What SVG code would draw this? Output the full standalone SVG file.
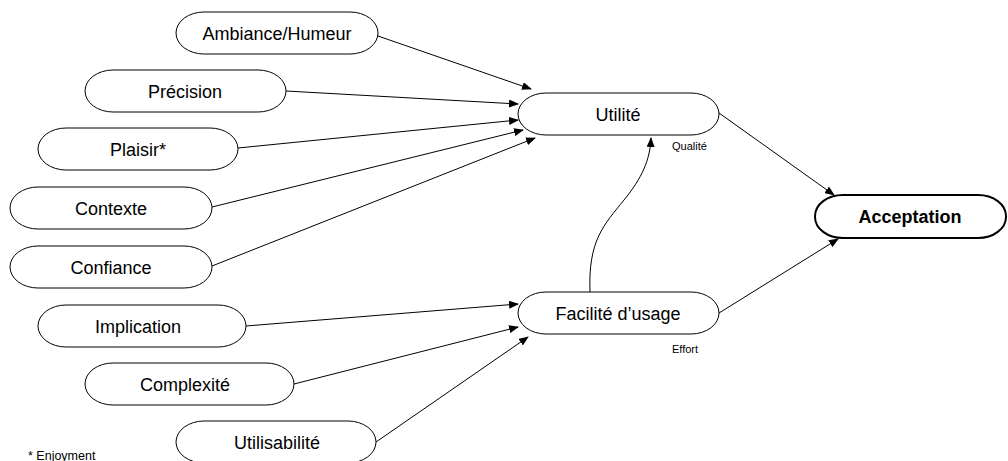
<svg xmlns="http://www.w3.org/2000/svg" width="1008" height="461" viewBox="0 0 1008 461">
<defs>
<marker id="ah" markerWidth="10" markerHeight="8" refX="9" refY="4" orient="auto" markerUnits="userSpaceOnUse">
<path d="M0,0 L10,4 L0,8 Z" fill="#000"/>
</marker>
<style>
.n{fill:#fff;stroke:#000;stroke-width:1}
.t{font-family:"Liberation Sans",Arial,sans-serif;font-size:18px;fill:#000;text-anchor:middle}
.s{font-family:"Liberation Sans",Arial,sans-serif;font-size:11px;fill:#000}
.c{fill:none;stroke:#000;stroke-width:1;marker-end:url(#ah)}
</style>
</defs>
<rect width="1008" height="461" fill="#fff"/>
<g id="connectors">
<path class="c" d="M378,36 L531,89"/>
<path class="c" d="M286,91 L518,104"/>
<path class="c" d="M238,148 L518,120"/>
<path class="c" d="M212,207 L523,130"/>
<path class="c" d="M212,266 L535,138"/>
<path class="c" d="M246,326 L518,304"/>
<path class="c" d="M294,384 L518,327"/>
<path class="c" d="M376,442 L528,337"/>
<path class="c" d="M590,292 C588,240 604,225 624,200 C642,178 650,160 651,138"/>
<path class="c" d="M719,113 L834,195"/>
<path class="c" d="M719,313 L838,239"/>
</g>
<g id="ambiance"><rect class="n" x="176" y="12" width="202" height="42" rx="28" ry="21"/><text class="t" x="277" y="40">Ambiance/Humeur</text></g>
<g id="precision"><rect class="n" x="85" y="70" width="201" height="42" rx="28" ry="21"/><text class="t" x="185" y="98">Précision</text></g>
<g id="plaisir"><rect class="n" x="38" y="128" width="200" height="42" rx="28" ry="21"/><text class="t" x="138" y="156">Plaisir*</text></g>
<g id="contexte"><rect class="n" x="10" y="187" width="202" height="42" rx="28" ry="21"/><text class="t" x="111" y="215">Contexte</text></g>
<g id="confiance"><rect class="n" x="10" y="246" width="202" height="42" rx="28" ry="21"/><text class="t" x="111" y="274">Confiance</text></g>
<g id="implication"><rect class="n" x="38" y="305" width="208" height="42" rx="28" ry="21"/><text class="t" x="138" y="333">Implication</text></g>
<g id="complexite"><rect class="n" x="85" y="363" width="209" height="42" rx="28" ry="21"/><text class="t" x="185" y="391">Complexité</text></g>
<g id="utilisabilite"><rect class="n" x="176" y="421" width="200" height="42" rx="28" ry="21"/><text class="t" x="277" y="449">Utilisabilité</text></g>
<g id="utilite"><rect class="n" x="518" y="93" width="201" height="42" rx="28" ry="21"/><text class="t" x="618" y="121">Utilité</text><text class="s" x="672" y="150">Qualité</text></g>
<g id="facilite"><rect class="n" x="518" y="292" width="201" height="42" rx="28" ry="21"/><text class="t" x="618" y="320">Facilité d’usage</text><text class="s" x="672" y="353">Effort</text></g>
<g id="acceptation"><rect class="n" x="815" y="195" width="191" height="43" rx="28" ry="21" style="stroke-width:2"/><text class="t" x="910" y="223" style="font-weight:bold">Acceptation</text></g>
<text class="s" x="28" y="460" style="font-size:12.5px">* Enjoyment</text>
</svg>
